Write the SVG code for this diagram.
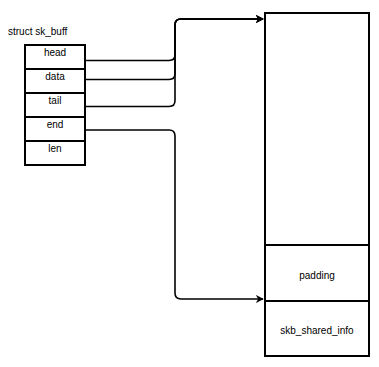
<svg xmlns="http://www.w3.org/2000/svg" width="379" height="367" viewBox="0 0 379 367">
<style>
.box{fill:#fff;stroke:#000;stroke-width:2}
.t{font-family:"Liberation Sans",Arial,sans-serif;font-size:10px;fill:#000}
.c{text-anchor:middle}
.e{fill:none;stroke:#000;stroke-width:1.6}
</style>
<defs>
<marker id="ah" viewBox="0 0 10 10" refX="9" refY="5" markerWidth="8" markerHeight="8" markerUnits="userSpaceOnUse" orient="auto">
<path d="M0,0 L10,5 L0,10 L3,5 z" fill="#000"/>
</marker>
</defs>
<rect width="379" height="367" fill="#fff"/>
<text class="t" x="8" y="35">struct sk_buff</text>
<g id="sk_buff">
<rect id="f-head" class="box" x="25" y="45" width="60" height="24"/>
<rect id="f-data" class="box" x="25" y="69" width="60" height="24"/>
<rect id="f-tail" class="box" x="25" y="93" width="60" height="24"/>
<rect id="f-end" class="box" x="25" y="117" width="60" height="24"/>
<rect id="f-len" class="box" x="25" y="141" width="60" height="24"/>
<text class="t c" x="55" y="56">head</text>
<text class="t c" x="55" y="80">data</text>
<text class="t c" x="55" y="104">tail</text>
<text class="t c" x="55" y="128">end</text>
<text class="t c" x="55" y="152">len</text>
</g>
<g id="buffer">
<rect id="data-area" class="box" x="265" y="13" width="104" height="232"/>
<rect id="padding" class="box" x="265" y="245" width="104" height="56"/>
<rect id="shinfo" class="box" x="265" y="301" width="104" height="55"/>
<text class="t c" x="317" y="279">padding</text>
<text class="t c" x="317" y="334">skb_shared_info</text>
</g>
<g id="connectors">
<path class="e" d="M85,60.5 H169 Q175,60.5 175,54.5 V25 Q175,19 181,19 H263" marker-end="url(#ah)"/>
<path class="e" d="M85,79.5 H169 Q175,79.5 175,73.5 V25 Q175,19 181,19 H263" marker-end="url(#ah)"/>
<path class="e" d="M85,106.5 H169 Q175,106.5 175,100.5 V25 Q175,19 181,19 H263" marker-end="url(#ah)"/>
<path class="e" d="M85,130 H169 Q175,130 175,136 V293 Q175,299 181,299 H263" marker-end="url(#ah)"/>
</g>
</svg>
